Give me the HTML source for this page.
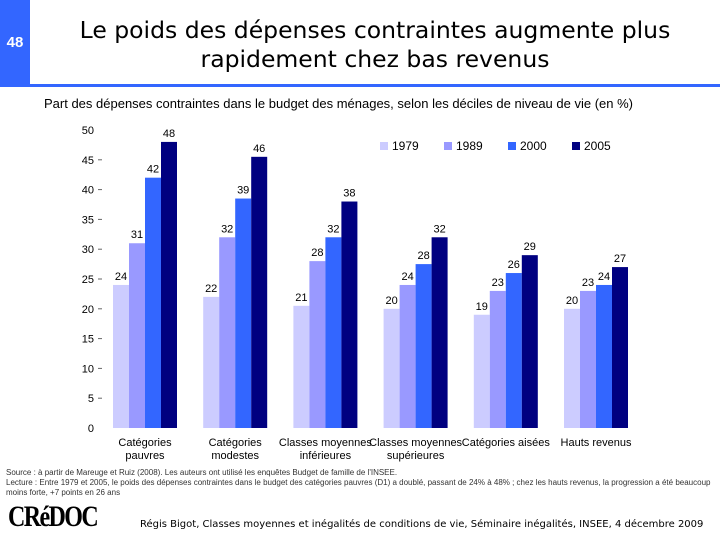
<!DOCTYPE html>
<html><head><meta charset="utf-8"><style>
body{margin:0;width:720px;height:540px;background:#fff;font-family:"Liberation Sans","DejaVu Sans",sans-serif;overflow:hidden;position:relative}
.abs{position:absolute}
</style></head><body>
<div class="abs" style="left:0;top:0;width:30px;height:84px;background:#3366ff"></div>
<div class="abs" style="left:0;top:34px;width:30px;text-align:center;color:#fff;font-weight:bold;font-size:15px">48</div>
<div class="abs" style="left:0;top:84px;width:720px;height:3px;background:#3366ff"></div>
<div class="abs" style="left:30px;top:16px;width:690px;text-align:center;font-family:'DejaVu Sans',sans-serif;font-size:23.5px;line-height:29px;color:#000">Le poids des dépenses contraintes augmente plus<br>rapidement chez bas revenus</div>
<div class="abs" style="left:44px;top:96px;font-size:13px;color:#000">Part des dépenses contraintes dans le budget des ménages, selon les déciles de niveau de vie (en %)</div>
<svg class="abs" style="left:0;top:0" width="720" height="540" id="chart"></svg>
<div class="abs" style="left:6px;top:468px;font-size:8px;line-height:10px;color:#333;width:712px">Source : à partir de Mareuge et Ruiz (2008). Les auteurs ont utilisé les enquêtes Budget de famille de l'INSEE.<br>Lecture : Entre 1979 et 2005, le poids des dépenses contraintes dans le budget des catégories pauvres (D1) a doublé, passant de 24% à 48% ; chez les hauts revenus, la progression a été beaucoup moins forte, +7 points en 26 ans</div>
<div class="abs" style="left:8px;top:500px;font-family:'Liberation Serif',serif;font-weight:bold;font-size:30px;letter-spacing:-2px;color:#000;transform:scaleX(0.8);transform-origin:left">CRéDOC</div>
<div class="abs" style="left:140px;top:519px;font-family:'DejaVu Sans',sans-serif;font-size:10px;white-space:nowrap;color:#000">Régis Bigot, Classes moyennes et inégalités de conditions de vie, Séminaire inégalités, INSEE, 4 décembre 2009</div>
<script>
const categories=[["Catégories","pauvres"],["Catégories","modestes"],["Classes moyennes","inférieures"],["Classes moyennes","supérieures"],["Catégories aisées",""],["Hauts revenus",""]];
const series=["1979","1989","2000","2005"];
const v1979=[24,22,20.5,20,19,20];
const v1989=[31,32,28,24,23,23];
const v2000=[42,38.5,32,27.5,26,24];
const v2005=[48,45.5,38,32,29,27];
const labels1979=[24,22,21,20,19,20];
const labels1989=[31,32,28,24,23,23];
const labels2000=[42,39,32,28,26,24];
const labels2005=[48,46,38,32,29,27];
const yTicks=[0,5,10,15,20,25,30,35,40,45,50];
const colors=["#ccccff","#9999ff","#3366ff","#000080"];
const NS="http://www.w3.org/2000/svg";
const svg=document.getElementById('chart');
const y=v=>428-v*5.96;
const gx=i=>113+i*90.2;
const bw=16;
function mk(t,a){const e=document.createElementNS(NS,t);for(const k in a)e.setAttribute(k,a[k]);svg.appendChild(e);return e;}
yTicks.forEach(t=>{
 const tx=mk('text',{x:94,y:y(t)+4,'text-anchor':'end','font-size':11,fill:'#000','font-family':'Liberation Sans, sans-serif'});
 tx.textContent=t;
 
 
 if(t>0&&t<50){const l=mk('line',{x1:98,x2:102,y1:y(t),y2:y(t),stroke:'#666'});
 
 }
});
const vals=[v1979,v1989,v2000,v2005];
const labs=[labels1979,labels1989,labels2000,labels2005];
categories.forEach((c,i)=>{
 vals.forEach((arr,s)=>{
  const x=gx(i)+s*bw;
  const r=mk('rect',{x:x,y:y(arr[i]),width:bw,height:y(0)-y(arr[i]),fill:colors[s]});
  
  
  const t=mk('text',{x:x+bw/2,y:y(arr[i])-5,'text-anchor':'middle','font-size':11,fill:'#000','font-family':'Liberation Sans, sans-serif'});
  t.textContent=labs[s][i];
  
  
 });
 c.forEach((line,k)=>{
  const t=mk('text',{x:gx(i)+2*bw,y:446+k*13,'text-anchor':'middle','font-size':11,fill:'#000','font-family':'Liberation Sans, sans-serif'});
  t.textContent=line;
  
  
 });
});
series.forEach((s,i)=>{
 const x=380+i*64;
 const r=mk('rect',{x:x,y:142,width:8,height:8,fill:colors[i]});
 
 
 const t=mk('text',{x:x+12,y:150,'font-size':12,fill:'#000','font-family':'Liberation Sans, sans-serif'});
 t.textContent=s;
 
 
});
</script>
</body></html>
